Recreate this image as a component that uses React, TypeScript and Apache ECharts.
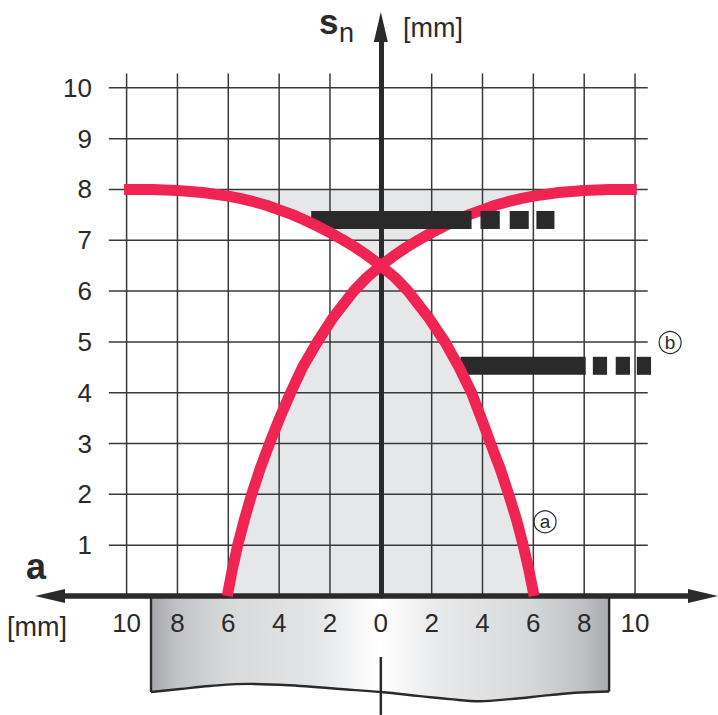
import React, { useEffect, useRef } from "react";
import * as echarts from "echarts";

const FONT = "'Liberation Sans', Arial, sans-serif";
const INK = "#2b2a2b";
const RED = "#ef2453";

const xTicks = [-10, -8, -6, -4, -2, 0, 2, 4, 6, 8, 10];
const yTicks = [1, 2, 3, 4, 5, 6, 7, 8, 9, 10];
const gridVerticalX = [-10, -8, -6, -4, -2, 2, 4, 6, 8, 10];
const gridXExtent = [-10.7, 10.5];
const gridYExtent = [0, 10.28];

const risingLower = [
  [-6.04, 0], [-5.85, 0.5], [-5.63, 1], [-5.37, 1.5], [-5.08, 2], [-4.75, 2.5], [-4.38, 3], [-3.98, 3.5],
  [-3.55, 4], [-3.08, 4.5], [-2.5, 5], [-1.85, 5.5], [-1.07, 6], [-0.55, 6.27],
];
const risingUpper = [
  [0.5, 6.69], [1, 6.86], [1.5, 7.01], [2, 7.15], [2.5, 7.28], [3, 7.4], [3.5, 7.51], [4, 7.6],
  [4.5, 7.69], [5, 7.76], [5.5, 7.82], [6, 7.87],
];
const risingEnd = [[7, 7.94], [8, 7.98], [9, 8.0], [10.07, 8.0]];
const fallingStart = [[-10.1, 8.0], [-9, 8.0], [-8, 7.98], [-7, 7.94]];
const fallingUpper = [
  [-6, 7.87], [-5.5, 7.82], [-5, 7.76], [-4.5, 7.69], [-4, 7.6], [-3.5, 7.51], [-3, 7.4], [-2.5, 7.28],
  [-2, 7.15], [-1.5, 7.01], [-1, 6.86], [-0.5, 6.69],
];
const fallingLower = [
  [0.55, 6.27], [1.07, 6], [1.85, 5.5], [2.52, 5], [3.08, 4.5], [3.57, 4], [3.95, 3.5], [4.32, 3],
  [4.7, 2.5], [5.03, 2], [5.34, 1.5], [5.6, 1], [5.83, 0.5], [6.03, 0],
];
const crossing = [0, 6.5];
const shadeTopLeft = [-6.4, 8];
const shadeTopRight = [6.4, 8];

const barAValue = 7.4;
const barASegments = [[-2.74, 3.57], [3.92, 4.68], [5.07, 5.82], [6.12, 6.83]];
const barBValue = 4.53;
const barBSegments = [[3.13, 8.06], [8.34, 8.9], [9.24, 9.8], [10.07, 10.63]];

const plateTop = [[-9.04, 0], [8.98, 0]];
const plateBottom = [
  [8.98, -1.88], [7.84, -1.9], [6.66, -1.95], [5.08, -2.03], [3.9, -2.07], [2.72, -2.03], [1.54, -1.97],
  [0, -1.89], [-1.6, -1.83], [-3.18, -1.77], [-5.14, -1.73], [-6.72, -1.77], [-7.9, -1.83], [-9.04, -1.89],
];
const centerTick = [[0, -1.2], [0, -2.34]];
const markers = [
  { name: "a", value: [6.46, 1.46] },
  { name: "b", value: [11.38, 4.99] },
];

const risingCurve = [...risingLower, crossing, ...risingUpper, ...risingEnd];
const fallingCurve = [...fallingStart, ...fallingUpper, crossing, ...fallingLower];
const topShade = [shadeTopLeft, ...fallingUpper, crossing, ...risingUpper, shadeTopRight];
const bottomShade = [...risingLower, crossing, ...fallingLower];

function segLine(data: number[][], width: number, color: string, z: number, smooth: number | boolean = false) {
  return {
    type: "line", data, smooth, showSymbol: false, symbol: "none", z, silent: true, clip: false,
    lineStyle: { width, color, cap: "butt", join: "round" },
  };
}

function polygon(points: number[][], fill: any, z: number) {
  return {
    type: "custom", z, silent: true, clip: false, data: [[0, 0]],
    renderItem: (_p: any, api: any) => ({
      type: "polygon",
      shape: { points: points.map((pt) => api.coord(pt)) },
      style: { fill },
    }),
  };
}

function plate(fill: any, z: number) {
  return {
    type: "custom", z, silent: true, clip: false, data: [[0, 0]],
    renderItem: (_p: any, api: any) => {
      const bottom = plateBottom.map((pt) => api.coord(pt));
      const top = plateTop.map((pt) => api.coord(pt));
      const stroke = { fill: "none", stroke: INK, lineWidth: 2.4 };
      return {
        type: "group",
        children: [
          { type: "polygon", shape: { points: [...top, ...bottom] }, style: { fill } },
          { type: "polyline", shape: { points: bottom, smooth: 0.4 }, style: stroke },
          { type: "polyline", shape: { points: [top[0], bottom[bottom.length - 1]] }, style: stroke },
          { type: "polyline", shape: { points: [top[1], bottom[0]] }, style: stroke },
        ],
      };
    },
  };
}

// baseline is the text's baseline; the element is anchored on the top of its line box.
function text(t: string, x: number, baseline: number, size: number, weight = "normal") {
  return {
    type: "text", x, y: baseline - size * 0.88, silent: true,
    style: { text: t, fill: INK, font: `${weight} ${size}px ${FONT}`, textAlign: "left" },
  };
}

export default function App() {
  const ref = useRef<HTMLDivElement>(null);
  useEffect(() => {
    const chart = echarts.init(ref.current!, undefined, { renderer: "svg" });
    const plateFill = new echarts.graphic.LinearGradient(0, 0, 1, 0, [
      { offset: 0, color: "#a6a7ab" },
      { offset: 0.06, color: "#c3c4c7" },
      { offset: 0.17, color: "#d8d9db" },
      { offset: 0.35, color: "#e3e4e6" },
      { offset: 0.5, color: "#ffffff" },
      { offset: 0.62, color: "#e9eaeb" },
      { offset: 0.82, color: "#d8d9db" },
      { offset: 0.94, color: "#c0c1c4" },
      { offset: 1, color: "#a9aaae" },
    ]);
    chart.setOption({
      animation: false,
      backgroundColor: "#ffffff",
      grid: { left: 60, right: 25, top: 35, bottom: 119, containLabel: false },
      xAxis: {
        type: "value", min: -12.62, max: 12.28,
        splitLine: { show: false }, axisTick: { show: false },
        axisLine: {
          show: true, onZero: true, symbol: ["triangle", "triangle"], symbolSize: [14, 30], symbolOffset: [-10, 10],
          lineStyle: { color: INK, width: 5.5 },
        },
        axisLabel: {
          customValues: xTicks, formatter: (v: number) => String(Math.abs(v)),
          color: INK, fontFamily: FONT, fontSize: 26, margin: 14,
        },
        z: 2,
      },
      yAxis: [
        {
          type: "value", min: 0, max: 11.04, position: "left", offset: -32,
          splitLine: { show: false }, axisTick: { show: false },
          axisLine: { show: false, onZero: false },
          axisLabel: { customValues: yTicks, color: INK, fontFamily: FONT, fontSize: 26, margin: 0 },
          z: 2,
        },
        {
          type: "value", min: 0, max: 11.04, position: "right",
          splitLine: { show: false }, axisTick: { show: false }, axisLabel: { show: false },
          axisLine: {
            show: true, onZero: true, symbol: ["none", "triangle"], symbolSize: [14, 30], symbolOffset: [0, 8],
            lineStyle: { color: INK, width: 5 },
          },
          z: 2,
        },
      ],
      series: [
        plate(plateFill, 1),
        polygon(topShade, "#e6e7e9", 1),
        polygon(bottomShade, "#e6e7e9", 1),
        ...yTicks.map((y) => segLine([[gridXExtent[0], y], [gridXExtent[1], y]], 1.5, "#3a393a", 1.5)),
        ...gridVerticalX.map((x) => segLine([[x, gridYExtent[0]], [x, gridYExtent[1]]], 1.5, "#3a393a", 1.5)),
        segLine(centerTick, 2.5, INK, 1.6),
        segLine(risingCurve, 11, RED, 3, false),
        ...barASegments.map((s) => segLine([[s[0], barAValue], [s[1], barAValue]], 18, INK, 4)),
        ...barBSegments.map((s) => segLine([[s[0], barBValue], [s[1], barBValue]], 18, INK, 4)),
        segLine(fallingCurve, 11, RED, 5, false),
        {
          type: "scatter", data: markers, symbol: "circle", symbolSize: 22, z: 6, silent: true, clip: false,
          itemStyle: { color: "#ffffff", borderColor: INK, borderWidth: 1.2, opacity: 1 },
          label: {
            show: true, position: "inside", formatter: (p: any) => p.name,
            color: INK, fontFamily: FONT, fontSize: 19,
          },
        },
      ],
      graphic: [
        text("s", 319, 35, 35, "bold"),
        text("n", 339, 43, 27),
        text("[mm]", 403, 38, 27),
        text("a", 26, 580, 36, "bold"),
        text("[mm]", 7, 637, 27),
      ],
    });
    return () => chart.dispose();
  }, []);
  return <div ref={ref} style={{ position: "fixed", left: 0, top: 0, width: 718, height: 715 }} />;
}
